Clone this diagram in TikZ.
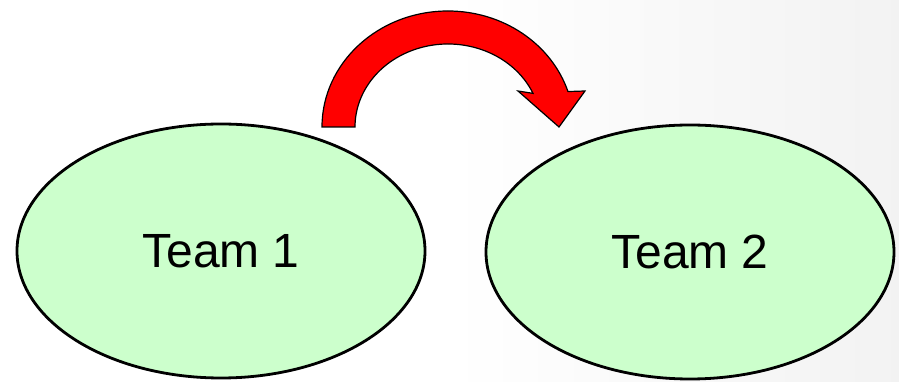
\documentclass[tikz,border=0pt]{standalone}
\usepackage{fontspec}
\setmainfont{Liberation Sans}
\usetikzlibrary{shapes.geometric,calc}
\definecolor{teamfill}{HTML}{CCFFCC}
\definecolor{arrowred}{HTML}{FF0000}
\begin{document}
\begin{tikzpicture}[x=1pt,y=1pt,
  team/.style={ellipse, draw=black, line width=2.8pt, fill=teamfill,
    minimum width=408pt, minimum height=254pt, inner sep=0pt,
    font=\fontsize{48}{58}\selectfont},
  blockarrow/.style={draw=black, line width=1.2pt, fill=arrowred, line join=miter}]
  % page and soft grey wash towards the right
  \fill[white] (0,0) rectangle (899,382);
  \shade[left color=white, right color=black!5] (450,0) rectangle (899,382);
  \useasboundingbox (0,0) rectangle (899,382);

  \node[team] (t1) at (221,131) {Team 1};
  \node[team] (t2) at (690,130) {Team 2};

  % curved block arrow from above Team 1 down towards Team 2
  \coordinate (c) at (448,255);
  \draw[blockarrow]
    (322,255) arc[start angle=180, end angle=17.8, x radius=126, y radius=116]
    -- (585,291) -- (559,255) -- (518,291)
    -- ($(c)+(23.9:93 and 83)$)
    arc[start angle=23.9, end angle=180, x radius=93, y radius=83]
    -- cycle;
\end{tikzpicture}
\end{document}
